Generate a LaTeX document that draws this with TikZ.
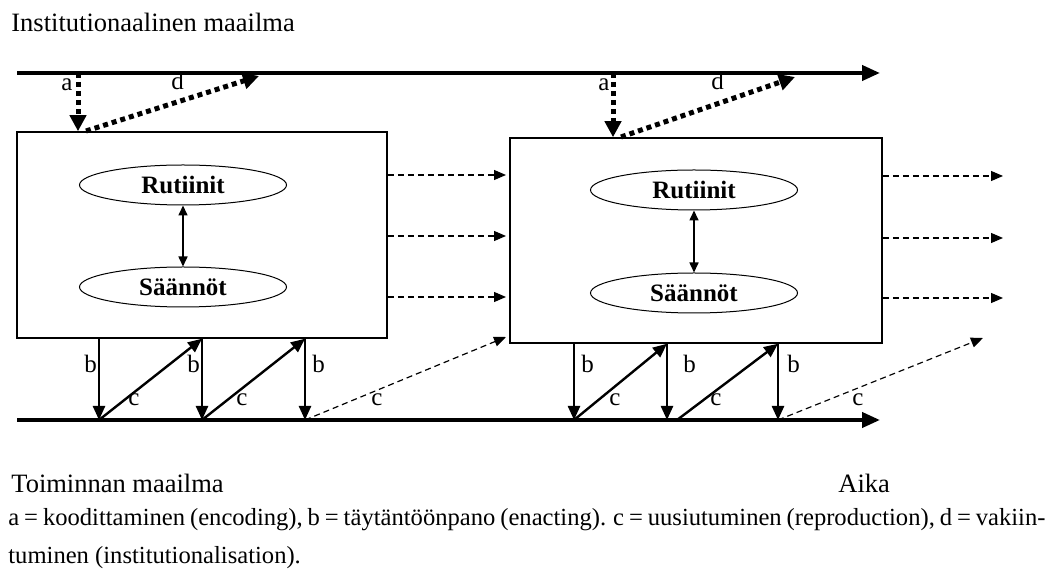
\documentclass[tikz,border=0pt]{standalone}
\usepackage{fontspec}
\setmainfont{Liberation Serif}
\usetikzlibrary{arrows.meta,shapes.geometric}
\begin{document}
\begin{tikzpicture}[x=0.5pt,y=-0.5pt,
  maintxt/.style={font=\fontsize{13.25}{15}\selectfont, inner sep=0pt, anchor=base west},
  captxt/.style={font=\fontsize{12.3}{15}\selectfont, inner sep=0pt, anchor=base west},
  lbl/.style={font=\fontsize{12.5}{14}\selectfont, inner sep=0pt, anchor=base west},
  box/.style={draw, line width=0.75pt, inner sep=0pt},
  ell/.style={draw, ellipse, line width=0.5pt, minimum width=103.5pt, minimum height=20pt, inner sep=0pt, font=\fontsize{12.5}{14}\bfseries\selectfont},
  worldline/.style={line width=2pt, -{Triangle[length=9pt,width=7.5pt]}},
  solidarr/.style={line width=1.2pt, -{Triangle[length=7pt,width=6pt]}},
  dblarr/.style={line width=0.8pt, {Triangle[length=5pt,width=4.5pt]}-{Triangle[length=5pt,width=4.5pt]}},
  dasharr/.style={line width=0.6pt, dash pattern=on 3pt off 2pt, -{Triangle[length=6pt,width=5pt]}},
  dotarr/.style={line width=2.5pt, dash pattern=on 2.5pt off 2pt, -{Triangle[length=8pt,width=8pt]}}
]
\useasboundingbox (0,0) rectangle (1048,581);

% texts
\node[maintxt] (tInst) at (11,32) {Institutionaalinen maailma};
\node[maintxt] (tToim) at (11,493) {Toiminnan maailma};
\node[maintxt] (tAika) at (838,493) {Aika};
\node[captxt] (cap1) at (8,526) {\spaceskip=0.2em plus 3em\relax\makebox[516pt][s]{a = koodittaminen (encoding), b = täytäntöönpano (enacting). c = uusiutuminen (reproduction), d = vakiin-}};
\node[captxt] (cap2) at (8,564) {tuminen (institutionalisation).};

% world lines
\coordinate (T0) at (17,73);
\coordinate (T1) at (880,73);
\coordinate (B0) at (17,420);
\coordinate (B1) at (880,420);
\draw[worldline] (T0) -- (T1);
\draw[worldline] (B0) -- (B1);

% boxes
\node[box, minimum width=185pt, minimum height=103pt] (box1) at (202,235) {};
\node[box, minimum width=186pt, minimum height=102.5pt] (box2) at (696,240.5) {};

% ellipses
\node[ell] (R1) at (183,185) {Rutiinit};
\node[ell] (S1) at (183,287) {Säännöt};
\node[ell] (R2) at (694,190) {Rutiinit};
\node[ell] (S2) at (694,293) {Säännöt};
\draw[dblarr] (R1.south) -- (S1.north);
\draw[dblarr] (R2.south) -- (S2.north);

% a and d arrows
\coordinate (a1s) at (78,73);
\coordinate (d1s) at (86,131);
\coordinate (d1e) at (259,76);
\draw[dotarr] (a1s) -- (a1s |- box1.north);
\draw[dotarr] (d1s) -- (d1e);
\node[lbl] (la1) at (61,91) {a};
\node[lbl] (ld1) at (171,90) {d};

\coordinate (a2s) at (613,73);
\coordinate (d2s) at (621,137);
\coordinate (d2e) at (795,77);
\draw[dotarr] (a2s) -- (a2s |- box2.north);
\draw[dotarr] (d2s) -- (d2e);
\node[lbl] (la2) at (598,91) {a};
\node[lbl] (ld2) at (711,90) {d};

% right dashed arrows
\coordinate (r11) at (506,175);
\coordinate (r12) at (506,236);
\coordinate (r13) at (506,297);
\draw[dasharr] (box1.east |- r11) -- (r11);
\draw[dasharr] (box1.east |- r12) -- (r12);
\draw[dasharr] (box1.east |- r13) -- (r13);
\coordinate (r21) at (1003,176);
\coordinate (r22) at (1003,238);
\coordinate (r23) at (1003,298);
\draw[dasharr] (box2.east |- r21) -- (r21);
\draw[dasharr] (box2.east |- r22) -- (r22);
\draw[dasharr] (box2.east |- r23) -- (r23);

% bottom arrows box 1
\coordinate (p1) at (99,420);
\coordinate (p2) at (202,420);
\coordinate (p3) at (305,420);
\coordinate (ce1) at (506,337);
\draw[solidarr] (p1 |- box1.south) -- (p1);
\draw[solidarr] (p2 |- box1.south) -- (p2);
\draw[solidarr] (p3 |- box1.south) -- (p3);
\draw[solidarr] (p1) -- (p2 |- box1.south);
\draw[solidarr] (p2) -- (p3 |- box1.south);
\draw[dasharr] (p3) -- (ce1);
\node[lbl] (lb11) at (84,373) {b};
\node[lbl] (lb12) at (187,373) {b};
\node[lbl] (lb13) at (312,373) {b};
\node[lbl] (lc11) at (128,406) {c};
\node[lbl] (lc12) at (236,406) {c};
\node[lbl] (lc13) at (371,406) {c};

% bottom arrows box 2
\coordinate (p4) at (574,420);
\coordinate (p5) at (667,420);
\coordinate (p6) at (677,420);
\coordinate (p7) at (778,420);
\coordinate (ce2) at (983,338);
\draw[solidarr] (p4 |- box2.south) -- (p4);
\draw[solidarr] (p5 |- box2.south) -- (p5);
\draw[solidarr] (p7 |- box2.south) -- (p7);
\draw[solidarr] (p4) -- (p5 |- box2.south);
\draw[solidarr] (p6) -- (p7 |- box2.south);
\draw[dasharr] (p7) -- (ce2);
\node[lbl] (lb21) at (581,373) {b};
\node[lbl] (lb22) at (683,373) {b};
\node[lbl] (lb23) at (787,373) {b};
\node[lbl] (lc21) at (609,406) {c};
\node[lbl] (lc22) at (710,406) {c};
\node[lbl] (lc23) at (852,406) {c};
\end{tikzpicture}
\end{document}
